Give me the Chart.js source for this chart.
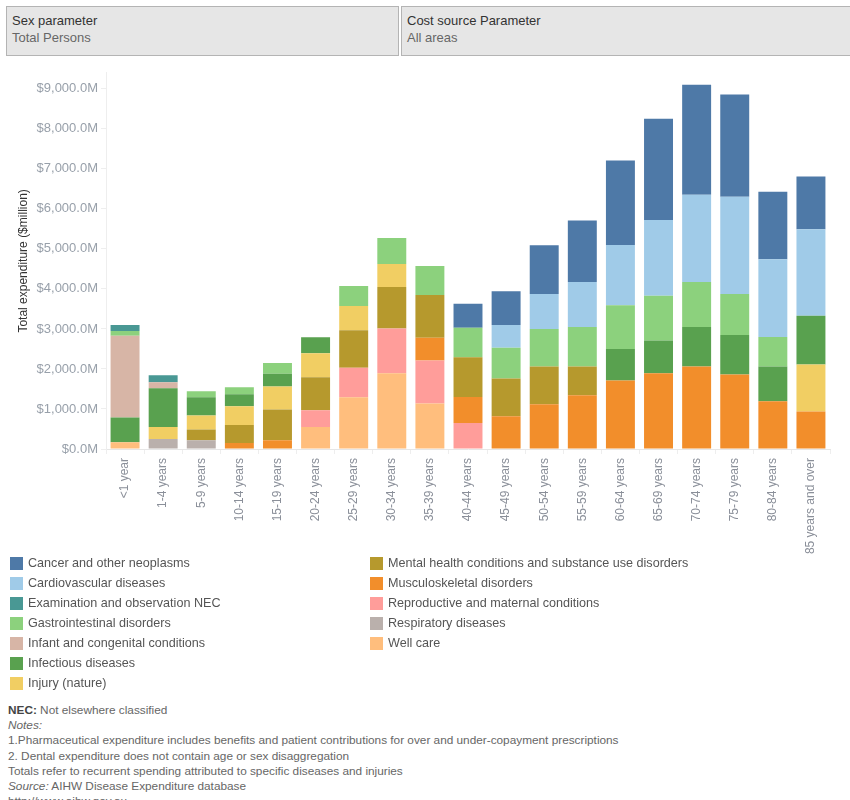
<!DOCTYPE html>
<html>
<head>
<meta charset="utf-8">
<script src="https://cdn.jsdelivr.net/npm/chart.js@4"></script>
<style>
  body { margin: 0; background: #fff; font-family: "Liberation Sans", Arial, sans-serif; }
  #page { position: relative; width: 850px; height: 800px; overflow: hidden; }
  .param { position: absolute; top: 6px; height: 50px; background: #e6e6e6; border: 1px solid #b4b4b4; box-sizing: border-box; }
  .param .t { position: absolute; left: 5px; top: 6px; font-size: 13px; color: #333; }
  .param .v { position: absolute; left: 5px; top: 23px; font-size: 13px; color: #666; }
  #chartBox { position: absolute; left: 0; top: 62px; }
  .leg { position: absolute; font-size: 12.6px; color: #555; white-space: nowrap; }
  .leg span.sw { position: absolute; left: 0; top: 1px; width: 13px; height: 13px; }
  .leg span.tx { position: absolute; left: 18px; top: 0; }
  #notes { position: absolute; left: 8px; top: 703px; font-size: 11.8px; line-height: 15.2px; color: #666; }
  #notes b { color: #444; font-weight: bold; }
</style>
</head>
<body>
<div id="page">
  <div class="param" style="left:6px;width:393px;">
    <div class="t">Sex parameter</div>
    <div class="v">Total Persons</div>
  </div>
  <div class="param" style="left:401px;width:455px;">
    <div class="t">Cost source Parameter</div>
    <div class="v">All areas</div>
  </div>
  <div id="chartBox"><canvas id="myChart" width="850" height="500"></canvas></div>
  <div id="legend"></div>
  <div id="notes">
    <div><b>NEC:</b> Not elsewhere classified</div>
    <div><i>Notes:</i></div>
    <div>1.Pharmaceutical expenditure includes benefits and patient contributions for over and under-copayment prescriptions</div>
    <div>2. Dental expenditure does not contain age or sex disaggregation</div>
    <div>Totals refer to recurrent spending attributed to specific diseases and injuries</div>
    <div><i>Source:</i> AIHW Disease Expenditure database</div>
    <div>http://www.aihw.gov.au</div>
  </div>
</div>
<script>
const ageGroups = ["<1 year", "1-4 years", "5-9 years", "10-14 years", "15-19 years", "20-24 years",
    "25-29 years", "30-34 years", "35-39 years", "40-44 years", "45-49 years", "50-54 years",
    "55-59 years", "60-64 years", "65-69 years", "70-74 years", "75-79 years", "80-84 years",
    "85 years and over"];

// $ million, one value per age group (only the top 5 groups per bar are shown)
const cancer       = [null, null, null, null, null, null, null, null, null, 600, 840, 1220, 1540, 2110, 2530, 2750, 2560, 1690, 1320];
const cardio       = [null, null, null, null, null, null, null, null, null, null, 570, 870, 1120, 1510, 1890, 2180, 2430, 1940, 2160];
const examination  = [150, 170, null, null, null, null, null, null, null, null, null, null, null, null, null, null, null, null, null];
const gastro       = [120, null, 150, 170, 270, null, 500, 650, 720, 740, 770, 940, 990, 1090, 1120, 1120, 1020, 740, null];
const infant       = [2040, 150, null, null, null, null, null, null, null, null, null, null, null, null, null, null, null, null, null];
const infectious   = [620, 970, 450, 300, 320, 400, null, null, null, null, null, null, null, 790, 820, 990, 990, 870, 1220];
const injury       = [null, 300, 350, 470, 570, 600, 600, 570, null, null, null, null, null, null, null, null, null, null, 1170];
const mental       = [null, null, 270, 450, 770, 820, 940, 1040, 1070, 990, 940, 940, 720, null, null, null, null, null, null];
const musculo      = [null, null, null, 150, 220, null, null, null, 570, 650, 820, 1120, 1340, 1710, 1890, 2060, 1860, 1190, 940];
const reproductive = [null, null, null, null, null, 420, 740, 1120, 1070, 650, null, null, null, null, null, null, null, null, null];
const respiratory  = [null, 250, 220, null, null, null, null, null, null, null, null, null, null, null, null, null, null, null, null];
const wellCare     = [170, null, null, null, null, 550, 1290, 1890, 1140, null, null, null, null, null, null, null, null, null, null];

const yTicks = [0, 1000, 2000, 3000, 4000, 5000, 6000, 7000, 8000, 9000];

// legend order (alphabetical); stacking is the reverse of this
const series = [
    { label: "Cancer and other neoplasms", data: cancer, color: "#4e79a7" },
    { label: "Cardiovascular diseases", data: cardio, color: "#a0cbe8" },
    { label: "Examination and observation NEC", data: examination, color: "#499894" },
    { label: "Gastrointestinal disorders", data: gastro, color: "#8cd17d" },
    { label: "Infant and congenital conditions", data: infant, color: "#d7b5a6" },
    { label: "Infectious diseases", data: infectious, color: "#59a14f" },
    { label: "Injury (nature)", data: injury, color: "#f1ce63" },
    { label: "Mental health conditions and substance use disorders", data: mental, color: "#b6992d" },
    { label: "Musculoskeletal disorders", data: musculo, color: "#f28e2b" },
    { label: "Reproductive and maternal conditions", data: reproductive, color: "#ff9d9a" },
    { label: "Respiratory diseases", data: respiratory, color: "#bab0ac" },
    { label: "Well care", data: wellCare, color: "#ffbe7d" },
];

// html legend in two columns
const legend = document.querySelector("#legend");
series.forEach((s, i) => {
    const col = i < 7 ? 0 : 1;
    const row = i < 7 ? i : i - 7;
    const div = document.createElement("div");
    div.className = "leg";
    div.style.left = (col === 0 ? 10 : 370) + "px";
    div.style.top = (556 + row * 20) + "px";
    div.innerHTML = '<span class="sw" style="background:' + s.color + '"></span><span class="tx"></span>';
    div.querySelector(".tx").textContent = s.label;
    legend.appendChild(div);
});

const datasets = series.slice().reverse().map((s) => ({
    label: s.label,
    data: s.data,
    backgroundColor: s.color,
    borderWidth: 0,
    barPercentage: 0.76,
    categoryPercentage: 1,
}));

const ctx = document.querySelector("#myChart");
new Chart(ctx, {
    type: "bar",
    data: { labels: ageGroups, datasets: datasets },
    options: {
        responsive: false,
        animation: false,
        layout: { padding: { top: 8, right: 20, left: 0, bottom: 0 } },
        plugins: { legend: { display: false }, tooltip: { enabled: false } },
        scales: {
            x: {
                stacked: true,
                grid: { drawOnChartArea: false, color: "#eeeeee", tickLength: 5 },
                border: { color: "#e6e6e6" },
                ticks: {
                    color: "#8a8f99",
                    font: { family: "Liberation Sans", size: 12 },
                    minRotation: 90,
                    maxRotation: 90,
                    autoSkip: false,
                    padding: 4,
                },
                afterFit: (scale) => { scale.height = 113; },
            },
            y: {
                stacked: true,
                min: 0,
                max: 9400,
                grid: { drawOnChartArea: false, color: "#eeeeee", tickLength: 5 },
                border: { color: "#eeeeee" },
                afterBuildTicks: (scale) => {
                    scale.ticks = yTicks.map((v) => ({ value: v }));
                },
                ticks: {
                    color: "#98a0aa",
                    font: { family: "Liberation Sans", size: 13 },
                    padding: 3,
                    callback: (v) => "$" + v.toLocaleString("en-US") + ".0M",
                },
                title: {
                    display: true,
                    text: "Total expenditure ($million)",
                    color: "#333",
                    font: { family: "Liberation Sans", size: 12 },
                    padding: { top: 16, bottom: 0 },
                },
                afterFit: (scale) => { scale.width = 106; },
            },
        },
    },
});
</script>
</body>
</html>
